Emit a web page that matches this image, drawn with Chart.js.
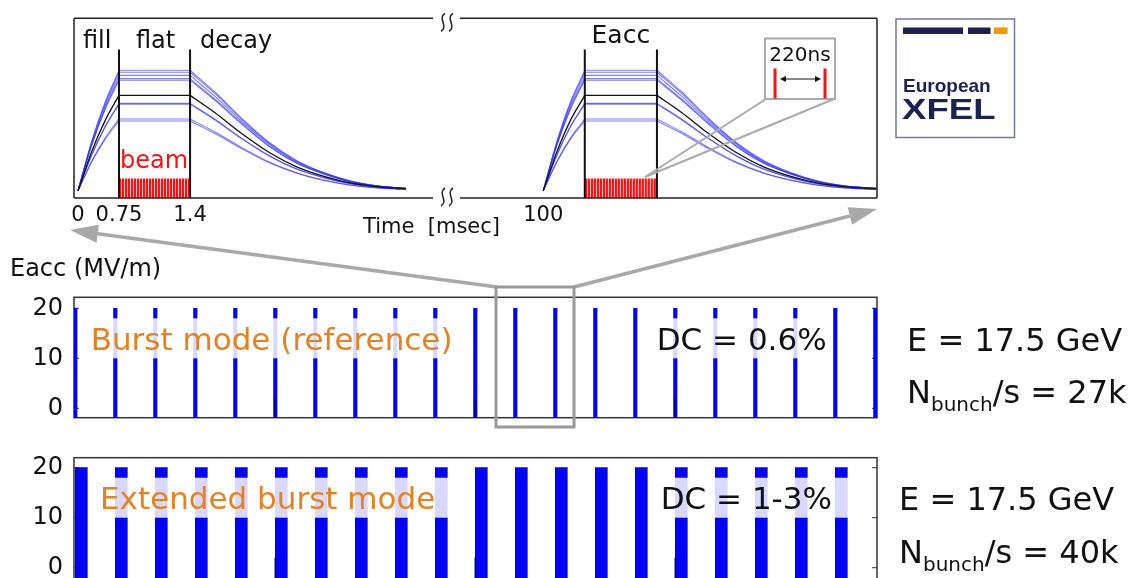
<!DOCTYPE html>
<html>
<head>
<meta charset="utf-8">
<script src="https://cdn.jsdelivr.net/npm/chart.js@4.4.1/dist/chart.umd.min.js"></script>
<style>
  html, body { margin: 0; padding: 0; background: #fff; overflow: hidden; }
  canvas { position: absolute; left: 0; }
  #pulse { top: 0; z-index: 3; pointer-events: none; }
  #burst { top: 290px; z-index: 1; }
  #extended { top: 450px; z-index: 1; }
</style>
</head>
<body>
<canvas id="burst" width="1138" height="135"></canvas>
<canvas id="extended" width="1138" height="130"></canvas>
<canvas id="pulse" width="1138" height="578"></canvas>
<script>
Chart.defaults.font.family = '"DejaVu Sans", sans-serif';
Chart.defaults.color = '#111';
Chart.defaults.animation = false;

// ---- RF pulse (schematic, broken time axis) ----
const timeTickLabels = ['0', '0.75', '1.4', '100'];
const timeTickPos = [0, 0.75, 2.05, 8.51];
const pulse1Time = [0, 0.25, 0.5, 0.75, 2.05, 2.5, 3.0, 3.5, 4.0, 4.5, 5.0, 5.5, 6.0];
const pulse2Time = [8.51, 8.76, 9.01, 9.27, 10.59, 11.04, 11.54, 12.04, 12.54, 13.04, 13.54, 14.04, 14.6];
// Eacc per cavity: fill (0-3), flat top (3-4), decay (4-12)
const cavityBlue = [
  [0, 12.4, 22.3, 30.2, 30.2, 24.8, 18.1, 12.1, 7.6, 4.5, 2.4, 1.2, 0.6],
  [0, 12.2, 22.0, 29.7, 29.7, 24.4, 17.8, 11.9, 7.4, 4.5, 2.4, 1.2, 0.6],
  [0, 11.8, 21.4, 28.9, 28.9, 23.7, 17.3, 11.6, 7.2, 4.3, 2.3, 1.2, 0.6],
  [0, 11.5, 20.8, 28.1, 28.1, 23.0, 16.9, 11.2, 7.0, 4.2, 2.2, 1.1, 0.6],
  [0, 11.4, 20.5, 27.7, 27.7, 22.7, 16.6, 11.1, 6.9, 4.2, 2.2, 1.1, 0.6],
  [0, 9.0, 16.2, 21.9, 21.9, 18.0, 13.1, 8.8, 5.5, 3.3, 1.8, 0.9, 0.4],
  [0, 8.9, 16.1, 21.7, 21.7, 17.8, 13.0, 8.7, 5.4, 3.3, 1.7, 0.9, 0.4],
  [0, 7.4, 13.3, 18.0, 18.0, 14.8, 10.8, 7.2, 4.5, 2.7, 1.4, 0.7, 0.4],
  [0, 7.2, 13.0, 17.5, 17.5, 14.4, 10.5, 7.0, 4.4, 2.6, 1.4, 0.7, 0.4]
];
const cavityBlack = [0, 9.8, 17.7, 23.9, 23.9, 19.6, 14.3, 9.6, 6.0, 3.6, 1.9, 1.0, 0.5];
// bunch positions inside the flat top
const bunchOffset = [0.02, 0.075, 0.13, 0.184, 0.239, 0.294, 0.349, 0.403, 0.458, 0.513, 0.568, 0.622,
                     0.677, 0.732, 0.787, 0.841, 0.896, 0.951, 1.006, 1.06, 1.115, 1.17, 1.225, 1.28];
const beamTop = 3.0;
const markerTop = 35.4;
const breakAt = 6.75;

// ---- pulse trains (s) ----
const burstStart = [0, 0.1, 0.2, 0.3, 0.4, 0.5, 0.6, 0.7, 0.8, 0.9, 1.0, 1.1, 1.2, 1.3, 1.4, 1.5, 1.6, 1.7, 1.8, 1.9, 2.0];
const extStart = [0, 0.1, 0.2, 0.3, 0.4, 0.5, 0.6, 0.7, 0.8, 0.9, 1.0, 1.1, 1.2, 1.3, 1.4, 1.5, 1.6, 1.7, 1.8, 1.9];
const extLength = 0.03;
const gradient = 20;
const eaccTicks = [0, 10, 20];
const timeTicks = [0.5, 1.0, 1.5];
const modeName = ['Burst mode (reference)', 'Extended burst mode'];
const dutyCycle = ['DC = 0.6%', 'DC = 1-3%'];
const bunchRate = ['27k', '40k'];
const beamEnergy = '17.5 GeV';

const ORANGE = '#e6821e';
const NAVY = '#1b2150';

// ---------- top chart ----------
const pulseDatasets = [];
const curves = [{v: cavityBlack, color: '#111', w: 1.3}]
  .concat(cavityBlue.map(v => ({v, color: 'rgba(40,40,255,0.6)', w: 1.1})));
[pulse1Time, pulse2Time].forEach(tt => {
  [3, 4].forEach(k => pulseDatasets.push({
    type: 'line',
    data: [{x: tt[k], y: -1.8}, {x: tt[k], y: markerTop}],
    borderColor: '#111', borderWidth: 2, pointRadius: 0
  }));
  curves.forEach(c => {
    const seg = (a, b) => tt.slice(a, b + 1).map((x, j) => ({x, y: c.v[a + j]}));
    pulseDatasets.push({
      type: 'line',
      data: [...seg(0, 3), {x: tt[3], y: null}, ...seg(3, 4), {x: tt[4], y: null}, ...seg(4, 12)],
      borderColor: c.color, borderWidth: c.w, pointRadius: 0,
      cubicInterpolationMode: 'monotone'
    });
  });
});
pulseDatasets.push({
  type: 'bar',
  data: [pulse1Time, pulse2Time].flatMap(tt => bunchOffset.map(o => ({x: tt[3] + o, y: [-1.8, beamTop]}))),
  backgroundColor: '#ff1010', barThickness: 1.6, grouped: false
});

function arrow(ctx, x0, y0, x1, y1, L, W) {
  const ang = Math.atan2(y1 - y0, x1 - x0);
  const bx = x1 - L * Math.cos(ang), by = y1 - L * Math.sin(ang);
  ctx.beginPath(); ctx.moveTo(x0, y0); ctx.lineTo(bx, by); ctx.stroke();
  ctx.beginPath(); ctx.moveTo(x1, y1);
  ctx.lineTo(bx + W * Math.sin(ang), by - W * Math.cos(ang));
  ctx.lineTo(bx - W * Math.sin(ang), by + W * Math.cos(ang));
  ctx.closePath(); ctx.fill();
}

const pulseDecor = {
  id: 'pulseDecor',
  afterDraw(chart) {
    const {ctx, chartArea: a} = chart;
    const xs = chart.scales.x;
    const brk = xs.getPixelForValue(breakAt);
    ctx.save();
    // frame with axis break
    ctx.strokeStyle = '#222'; ctx.lineWidth = 1.5;
    ctx.beginPath();
    [a.top, a.bottom].forEach(y => {
      ctx.moveTo(a.left, y); ctx.lineTo(brk - 14, y);
      ctx.moveTo(brk + 13, y); ctx.lineTo(a.right, y);
    });
    ctx.moveTo(a.left, a.top); ctx.lineTo(a.left, a.bottom);
    ctx.moveTo(a.right, a.top); ctx.lineTo(a.right, a.bottom);
    ctx.stroke();
    ctx.beginPath();
    [a.top + 4, a.bottom - 1].forEach(y => {
      [-4, 4].forEach(d => {
        const x = brk + d;
        ctx.moveTo(x + 2, y - 9);
        ctx.bezierCurveTo(x - 6, y - 4, x + 6, y + 4, x - 2, y + 9);
      });
    });
    ctx.stroke();

    // labels
    ctx.fillStyle = '#111';
    ctx.font = '24px "DejaVu Sans"';
    ctx.fillText('fill', 83, 48);
    ctx.fillText('flat', 136, 48);
    ctx.fillText('decay', 200, 48);
    ctx.font = '25px "DejaVu Sans"';
    ctx.textAlign = 'center';
    ctx.fillText('Eacc', (xs.getPixelForValue(pulse2Time[3]) + xs.getPixelForValue(pulse2Time[4])) / 2, 43);
    ctx.textAlign = 'left';
    ctx.fillStyle = '#ff1010';
    ctx.font = '24px "DejaVu Sans"';
    ctx.fillText('beam', 120, 168);
    ctx.fillStyle = '#111';
    ctx.font = '21px "DejaVu Sans"';
    ctx.fillText('Time  [msec]', 363, 233);

    // 220 ns inset
    ctx.strokeStyle = '#aaa'; ctx.lineWidth = 2;
    ctx.beginPath();
    ctx.moveTo(766, 99); ctx.lineTo(645, 177);
    ctx.moveTo(834, 99); ctx.lineTo(645, 177);
    ctx.stroke();
    ctx.fillStyle = '#fff';
    ctx.fillRect(765, 38.5, 70, 60.5);
    ctx.strokeRect(765, 38.5, 70, 60.5);
    ctx.fillStyle = '#111';
    ctx.font = '20px "DejaVu Sans"';
    ctx.textAlign = 'center';
    ctx.fillText('220ns', 800, 61);
    ctx.textAlign = 'left';
    ctx.fillStyle = '#ff1010';
    ctx.fillRect(773.5, 68.5, 3, 30);
    ctx.fillRect(823.5, 68.5, 3, 30);
    ctx.strokeStyle = '#111'; ctx.fillStyle = '#111'; ctx.lineWidth = 1;
    arrow(ctx, 800, 79, 780, 79, 6, 3);
    arrow(ctx, 800, 79, 821, 79, 6, 3);

    // logo
    ctx.strokeStyle = '#74789a'; ctx.lineWidth = 1.5;
    ctx.strokeRect(896, 19, 118.5, 118.5);
    ctx.fillStyle = NAVY;
    ctx.fillRect(903, 27.5, 60, 6.5);
    ctx.fillRect(968, 27.5, 22.5, 6.5);
    ctx.fillStyle = '#f29a00';
    ctx.fillRect(994, 27.5, 13.5, 6.5);
    ctx.fillStyle = NAVY;
    ctx.font = 'bold 19px "Liberation Sans"';
    ctx.fillText('European', 903, 91.5);
    ctx.save();
    ctx.translate(902, 118.5);
    ctx.scale(1.22, 1);
    ctx.font = 'bold 30px "Liberation Sans"';
    ctx.fillText('XFEL', 0, 0);
    ctx.restore();

    // zoom box and arrows
    ctx.strokeStyle = '#a8a8a8'; ctx.fillStyle = '#a8a8a8'; ctx.lineWidth = 3.5;
    arrow(ctx, 497, 287, 70, 230, 28, 9);
    arrow(ctx, 574, 287, 877, 209, 28, 9);
    ctx.strokeStyle = '#999'; ctx.lineWidth = 3;
    ctx.strokeRect(496, 287, 78, 140);

    ctx.fillStyle = '#111';
    ctx.font = '24px "DejaVu Sans"';
    ctx.fillText('Eacc (MV/m)', 10, 276);
    ctx.restore();
  }
};

new Chart(document.getElementById('pulse'), {
  type: 'line',
  data: {datasets: pulseDatasets},
  options: {
    responsive: false,
    animation: false,
    layout: {padding: {left: 74, top: 18.3, right: 261, bottom: 338}},
    scales: {
      x: {
        type: 'linear', min: -0.073, max: 14.615, offset: false,
        grid: {display: false, drawTicks: false, offset: false},
        border: {display: false},
        afterBuildTicks: s => { s.ticks = timeTickPos.map(v => ({value: v})); },
        afterFit: s => { s.height = 42; s.paddingLeft = 0; s.paddingRight = 0; },
        ticks: {font: {size: 21}, padding: 5, maxRotation: 0, autoSkip: false,
                callback: (v, i) => timeTickLabels[i]}
      },
      y: {display: false, min: -1.8, max: 43.2}
    },
    plugins: {legend: {display: false}, tooltip: {enabled: false}}
  },
  plugins: [pulseDecor]
});

// ---------- pulse train charts ----------
function trainDecor(idx, bandPad, nameX, dcX, statX) {
  return {
    id: 'trainDecor' + idx,
    beforeDatasetsDraw(chart) {
      const {ctx, chartArea: a, scales: {y}} = chart;
      ctx.save();
      ctx.strokeStyle = '#333'; ctx.lineWidth = 1.5;
      ctx.strokeRect(a.left, a.top, a.right - a.left, a.bottom - a.top);
      ctx.lineWidth = 1;
      ctx.beginPath();
      eaccTicks.forEach(v => {
        const py = y.getPixelForValue(v);
        ctx.moveTo(a.left, py); ctx.lineTo(a.left + 5, py);
        ctx.moveTo(a.right - 5, py); ctx.lineTo(a.right, py);
      });
      ctx.stroke();
      ctx.restore();
    },
    afterDatasetsDraw(chart) {
      const {ctx, chartArea: a, scales: {x, y}} = chart;
      ctx.save();
      ctx.strokeStyle = '#111'; ctx.lineWidth = 1.5;
      ctx.beginPath();
      timeTicks.forEach(t => {
        const px = x.getPixelForValue(t);
        ctx.moveTo(px, a.bottom); ctx.lineTo(px, y.getPixelForValue(2));
      });
      ctx.stroke();

      ctx.font = '31px "DejaVu Sans"';
      const yb = y.getPixelForValue(11.7), yt = y.getPixelForValue(18), yl = y.getPixelForValue(10);
      [[modeName[idx], nameX, ORANGE], [dutyCycle[idx], dcX, '#111']].forEach(([txt, tx, col]) => {
        const w = ctx.measureText(txt).width;
        ctx.fillStyle = 'rgba(255,255,255,0.85)';
        ctx.fillRect(tx - 3, yt, w + 3 + bandPad, yl - yt);
        ctx.fillStyle = col;
        ctx.fillText(txt, tx, yb);
      });

      ctx.fillStyle = '#111';
      ctx.font = '32px "DejaVu Sans"';
      ctx.fillText('E = ' + beamEnergy, statX, y.getPixelForValue(11.5));
      const yn = y.getPixelForValue(1.0);
      ctx.fillText('N', statX, yn);
      let cx = statX + ctx.measureText('N').width;
      ctx.font = '20px "DejaVu Sans"';
      ctx.fillText('bunch', cx, yn + 8);
      cx += ctx.measureText('bunch').width;
      ctx.font = '32px "DejaVu Sans"';
      ctx.fillText('/s = ' + bunchRate[idx], cx, yn);
      ctx.restore();
    }
  };
}

function trainChart(id, centers, thickness, yMin, yMax, padTop, padBottom, decor) {
  return new Chart(document.getElementById(id), {
    type: 'bar',
    data: {
      datasets: [{
        data: centers.map(x => ({x, y: [yMin, gradient]})),
        backgroundColor: '#0000ff', barThickness: thickness, grouped: false
      }]
    },
    options: {
      responsive: false,
      animation: false,
      layout: {padding: {left: 0, right: 261, top: padTop, bottom: padBottom}},
      scales: {
        x: {type: 'linear', display: false, offset: false, min: -0.00325, max: 2.00425},
        y: {
          min: yMin, max: yMax,
          grid: {display: false, drawTicks: false},
          border: {display: false},
          afterBuildTicks: s => { s.ticks = eaccTicks.map(v => ({value: v})); },
          afterFit: s => { s.width = 74; s.paddingTop = 0; s.paddingBottom = 0; },
          ticks: {font: {size: 24}, padding: 11, color: '#111'}
        }
      },
      plugins: {legend: {display: false}, tooltip: {enabled: false}}
    },
    plugins: [decor]
  });
}

trainChart('burst', burstStart, 3.5, -1.88, 22.2, 7.3, 7.3,
           trainDecor(0, 3, 90.7, 656.7, 907));
trainChart('extended', extStart.map(t => t + extLength / 2), 12, -2.26, 22.0, 7.7, 1,
           trainDecor(1, 16, 100, 660.7, 899));
</script>
</body>
</html>
